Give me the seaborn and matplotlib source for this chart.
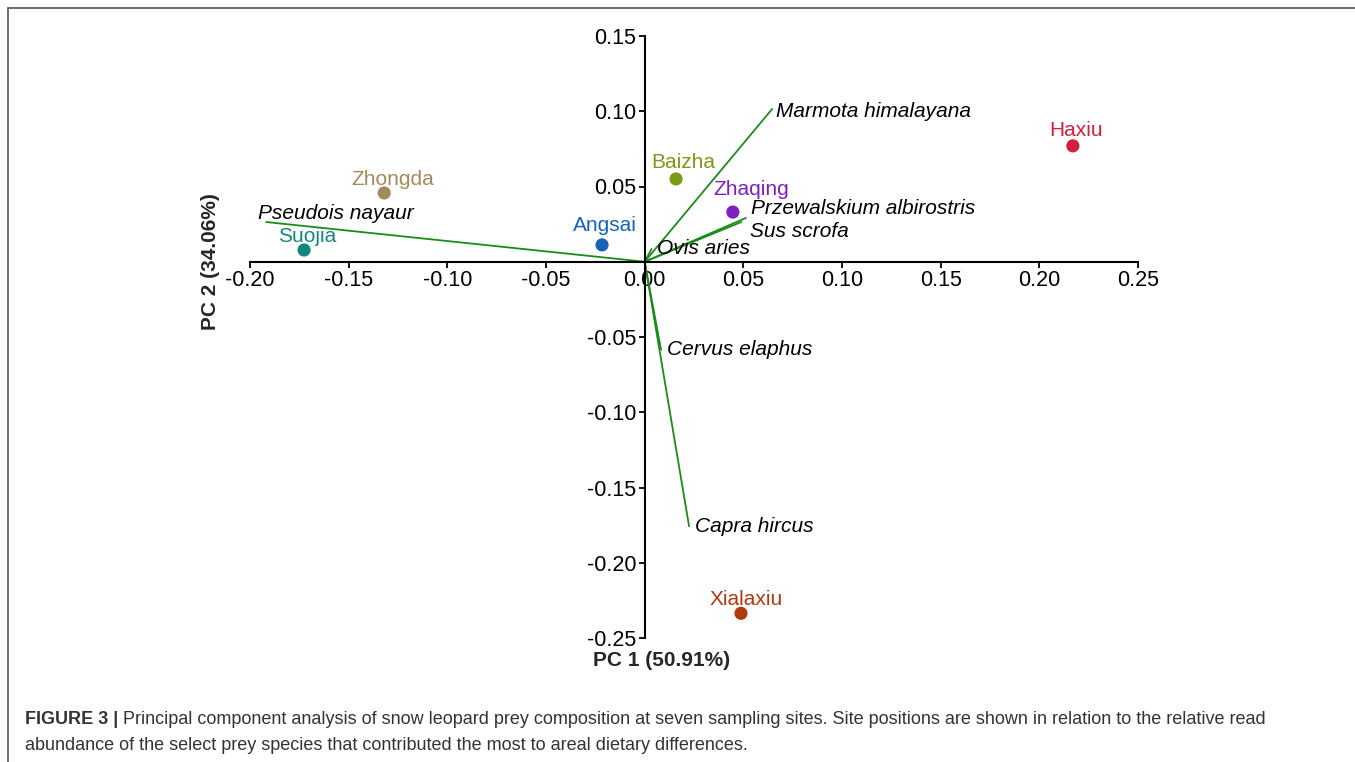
import matplotlib
matplotlib.use("Agg")
import matplotlib.pyplot as plt
from matplotlib.lines import Line2D
import seaborn as sns
import pandas as pd

# site scores (PC1, PC2)
sites = ["Haxiu", "Xialaxiu", "Zhaqing", "Baizha", "Angsai", "Zhongda", "Suojia"]
site_pc1 = [0.217, 0.0488, 0.0447, 0.0159, -0.0216, -0.132, -0.1726]
site_pc2 = [0.077, -0.2336, 0.033, 0.055, 0.0112, 0.0457, 0.0078]
site_colors = ["#D21F3C", "#B0390F", "#7E1FBF", "#7D9A15", "#1763B5", "#A38A5E", "#13877F"]

# species loadings (arrow ends)
species = ["Marmota himalayana", "Pseudois nayaur", "Przewalskium albirostris",
           "Sus scrofa", "Ovis aries", "Cervus elaphus", "Capra hircus"]
sp_pc1 = [0.0646, -0.1918, 0.0513, 0.049, 0.0035, 0.0083, 0.0225]
sp_pc2 = [0.1015, 0.0264, 0.0291, 0.0264, 0.0085, -0.0585, -0.1757]

x_ticks = [-0.20, -0.15, -0.10, -0.05, 0.00, 0.05, 0.10, 0.15, 0.20, 0.25]
y_ticks = [0.15, 0.10, 0.05, -0.05, -0.10, -0.15, -0.20, -0.25]

# label offsets in points (text placement only)
site_offsets = {"Haxiu": (2, 11), "Xialaxiu": (4, 10), "Zhaqing": (13, 16),
                "Baizha": (5, 12), "Angsai": (2, 14), "Zhongda": (6, 10), "Suojia": (2, 10)}
sp_offsets = {"Marmota himalayana": (3, -2), "Pseudois nayaur": (-6, 6),
              "Przewalskium albirostris": (4, 7), "Sus scrofa": (6, -7),
              "Ovis aries": (4, 0), "Cervus elaphus": (4, 0), "Capra hircus": (4, 0)}

sns.set_style("white")
plt.rcParams["font.family"] = ["Liberation Sans", "DejaVu Sans"]

fig = plt.figure(figsize=(13.55, 7.62), dpi=100)
ax = fig.add_axes([250 / 1355, 1 - 638 / 762, 888 / 1355, 602 / 762])

green = "#1A8C1A"
for name, x, y in zip(species, sp_pc1, sp_pc2):
    ax.plot([0, x], [0, y], color=green, lw=1.3, zorder=2)
    dx, dy = sp_offsets[name]
    ax.annotate(name, (x, y), xytext=(dx, dy), textcoords="offset points",
                ha="left", va="center", fontsize=15, style="italic", color="black")

df = pd.DataFrame({"site": sites, "PC1": site_pc1, "PC2": site_pc2})
sns.scatterplot(data=df, x="PC1", y="PC2", hue="site", palette=site_colors,
                s=90, edgecolor="none", legend=False, ax=ax, zorder=3)
for name, x, y, c in zip(sites, site_pc1, site_pc2, site_colors):
    dx, dy = site_offsets[name]
    ax.annotate(name, (x, y), xytext=(dx, dy), textcoords="offset points",
                ha="center", va="center", fontsize=15, color=c)

ax.set_xlim(-0.20, 0.25)
ax.set_ylim(-0.25, 0.15)
ax.set_xticks(x_ticks)
ax.set_yticks(y_ticks)
ax.set_xticklabels([f"{t:.2f}" for t in x_ticks])
ax.set_yticklabels([f"{t:.2f}" for t in y_ticks])
ax.spines["left"].set_position(("data", 0))
ax.spines["bottom"].set_position(("data", 0))
ax.spines["top"].set_visible(False)
ax.spines["right"].set_visible(False)
for s in ("left", "bottom"):
    ax.spines[s].set_color("black")
    ax.spines[s].set_linewidth(1.5)
ax.tick_params(axis="both", direction="out", length=4, width=1.3, colors="black",
               labelsize=15.5, pad=2, bottom=True, left=True)
ax.set_xlabel("")
ax.set_ylabel("")
ax.patch.set_alpha(0)

fig.text(662 / 1355, 1 - 661 / 762, "PC 1 (50.91%)", ha="center", va="center",
         fontsize=15, fontweight="bold")
fig.text(211 / 1355, 1 - 262 / 762, "PC 2 (34.06%)", ha="center", va="center",
         rotation=90, fontsize=15, fontweight="bold")

# frame
fig.add_artist(Line2D([8 / 1355, 8 / 1355], [0, 1 - 8 / 762], color="#555555", lw=1.2,
                      transform=fig.transFigure))
fig.add_artist(Line2D([8 / 1355, 1], [1 - 8 / 762, 1 - 8 / 762], color="#555555", lw=1.2,
                      transform=fig.transFigure))

# caption
cap_color = "#333333"
bold = fig.text(25 / 1355, 1 - 720 / 762, "FIGURE 3 |", ha="left", va="center",
                fontsize=13, fontweight="bold", color=cap_color)
fig.canvas.draw()
bb = bold.get_window_extent()
fig.text((bb.x1 + 5) / 1355, 1 - 720 / 762,
         "Principal component analysis of snow leopard prey composition at seven sampling sites. "
         "Site positions are shown in relation to the relative read",
         ha="left", va="center", fontsize=13, color=cap_color)
fig.text(25 / 1355, 1 - 745 / 762,
         "abundance of the select prey species that contributed the most to areal dietary differences.",
         ha="left", va="center", fontsize=13, color=cap_color)

fig.savefig("out.png", dpi=100)
